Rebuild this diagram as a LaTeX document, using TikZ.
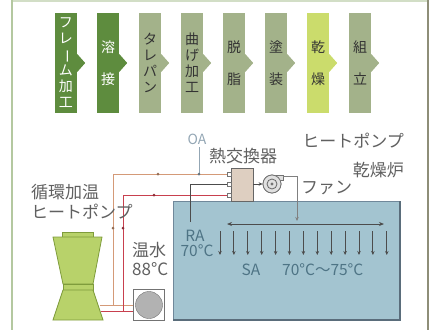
\documentclass[tikz,border=0pt]{standalone}
\usepackage{fontspec}
\newfontfamily\jp{Noto Sans CJK JP}
\usetikzlibrary{arrows.meta}
\definecolor{darkstep}{HTML}{5E8C3E}
\definecolor{sagestep}{HTML}{A3B28A}
\definecolor{limestep}{HTML}{CBDC6C}
\definecolor{framegreen}{HTML}{B4C8A0}
\definecolor{frameolive}{HTML}{8E8E78}
\definecolor{tanpipe}{HTML}{D49A78}
\definecolor{redpipe}{HTML}{C8404E}
\definecolor{tankfill}{HTML}{A3C4D0}
\definecolor{tankedge}{HTML}{70889A}
\definecolor{pumpfill}{HTML}{B8D26A}
\definecolor{pumpedge}{HTML}{7F9C3C}
\definecolor{labelgray}{HTML}{606060}
\definecolor{tanktext}{HTML}{4E7485}
\definecolor{oagray}{HTML}{93A6B4}
\begin{document}
\begin{tikzpicture}[x=1pt,y=-1pt,
  stepbox/.style={minimum width=22pt,minimum height=100pt,inner sep=0pt,
    font=\jp\fontsize{14}{16}\selectfont,align=center},
  label/.style={font=\jp\fontsize{17}{18}\selectfont,text=labelgray,inner sep=0pt},
  tanklabel/.style={font=\jp\fontsize{15.5}{16}\selectfont,text=tanktext,inner sep=0pt},
  pipe/.style={line width=1pt},
  marker/.style={circle,inner sep=0pt,minimum size=3pt},
  flow/.style={draw=black!70,line width=0.9pt,-{Stealth[length=4pt,width=3.5pt]}}
]
\useasboundingbox (0,0) rectangle (440,330);

% frame
\draw[framegreen!60,line width=2pt] (12,1) -- (428,1);
\draw[framegreen,line width=1.2pt] (12,0) -- (12,330);
\draw[frameolive,line width=1.5pt] (428,0) -- (428,330);

% process steps
\newcommand{\notch}[2]{\fill[#2] ([yshift=9pt]#1.east) -- ([xshift=8pt]#1.east) -- ([yshift=-9pt]#1.east) -- cycle;}
\node[stepbox,fill=darkstep,text=white] (s1) at (66,63)
  {フ\\レ\\\rotatebox[origin=c]{-90}{ー}\\ム\\加\\工};
\node[stepbox,fill=darkstep,text=white] (s2) at (108,63) {溶\\[16pt]接};
\node[stepbox,fill=sagestep,text=black!80] (s3) at (150,63) {タ\\レ\\パ\\ン};
\node[stepbox,fill=sagestep,text=black!80] (s4) at (192,63) {曲\\げ\\加\\工};
\node[stepbox,fill=sagestep,text=black!80] (s5) at (234,63) {脱\\[16pt]脂};
\node[stepbox,fill=sagestep,text=black!80] (s6) at (276,63) {塗\\[16pt]装};
\node[stepbox,fill=limestep,text=black!80] (s7) at (318,63) {乾\\[16pt]燥};
\node[stepbox,fill=sagestep,text=black!80] (s8) at (360,63) {組\\[16pt]立};
\notch{s1}{darkstep}\notch{s2}{darkstep}\notch{s3}{sagestep}\notch{s4}{sagestep}
\notch{s5}{sagestep}\notch{s6}{sagestep}\notch{s7}{limestep}\notch{s8}{sagestep}

% drying furnace tank
\node[draw=tankedge,fill=tankfill,line width=1pt,minimum width=226pt,minimum height=118pt,inner sep=0pt,anchor=north west] (tank) at (173,201) {};
\draw[tankedge!80!black,line width=1.5pt] (tank.north east) -- (tank.south east) -- (tank.south west);

% heat exchanger and fan
\node[draw=black!60,fill=black!25!brown!30,minimum width=22pt,minimum height=33pt,inner sep=0pt,anchor=north west] (hx) at (231,168) {};
\node[draw=black!55,fill=black!12,circle,minimum size=18pt,inner sep=0pt,line width=0.8pt] (fan) at (272,184) {};
\draw[black!55,fill=black!12,line width=0.8pt] (272,175) rectangle (283,180);
\draw[black!55,fill=black!12,line width=0.8pt] (fan) circle (9pt);
\draw[black!60,line width=0.8pt] (fan) circle (5pt);
\fill[black!55] (fan) circle (1.6pt);
\coordinate (duct) at (283,176);
\draw[flow,line width=0.7pt] (hx.east |- fan) -- (fan.west);
\draw[black!50,line width=0.8pt] (duct) -- (297,176) coordinate (ductturn);
\draw[flow,line width=0.8pt,draw=black!50] (ductturn) -- (297,221);

% supply air distribution
\draw[black!70,line width=1pt,{Stealth[length=5pt,width=4pt]}-{Stealth[length=5pt,width=4pt]}] (227,224) -- (384,224);
\foreach \k in {0,...,12}
  \draw[flow] ({220+13.9*\k},231) -- ({220+13.9*\k},255);

% circulating heat pump
\node[draw=pumpedge,fill=pumpfill,minimum width=31pt,minimum height=5pt,inner sep=0pt,anchor=south] (hpcap) at (77.5,237) {};
\filldraw[draw=pumpedge,fill=pumpfill,line width=0.8pt] (53,237) -- (102,237) -- (93,284) -- (63,284) -- cycle;
\filldraw[draw=pumpedge,fill=pumpfill,line width=0.8pt] (63,284) rectangle (93,290);
\filldraw[draw=pumpedge,fill=pumpfill,line width=0.8pt] (63,290) -- (93,290) -- (103,320) -- (53,320) -- cycle;
\coordinate (hpout1) at (100,305);
\coordinate (hpout2) at (101,311);

% hot water pump
\node[draw=black!55,fill=white,minimum size=31pt,inner sep=0pt,line width=0.8pt] (wp) at (149,305) {};
\fill[draw=black!55,fill=black!30] (wp) circle (13.5pt);

% water pipes
\draw[tanpipe,pipe] (hpout1) -- (wp.west |- hpout1);
\draw[redpipe,pipe] (hpout2) -- (wp.west |- hpout2);
\draw[tanpipe,pipe] (113,305) -- (113,174) -- (228,174);
\draw[redpipe,pipe] (123,311) -- (123,195) -- (228,195);
\node[marker,fill=tanpipe!70!black] at (158,174) {};
\node[marker,fill=redpipe!70!black] at (154,195) {};
\node[marker,fill=tanpipe!70!black] at (113,228) {};
\node[marker,fill=redpipe!70!black] at (123,228) {};

% return air
\draw[black!70,line width=0.9pt] (190,222) -- (190,184) -- (228,184);
\foreach \yy in {174,184,195}
  \draw[black!55,fill=white,line width=0.6pt] (227,\yy-1.8) rectangle (231,\yy+1.8);

% outside air
\node[font=\jp\fontsize{14}{14}\selectfont,text=oagray,inner sep=0pt] (oa) at (197,139) {OA};
\draw[oagray,line width=0.9pt] (199,147) -- (199,174);
\node[marker,fill=oagray!70!black] at (199,174) {};

% labels
\node[label,anchor=west] (hp1) at (31,192) {循環加温};
\node[label,anchor=west] (hp2) at (31,212) {ヒートポンプ};
\node[label,anchor=west] (hw1) at (132,250) {温水};
\node[label,anchor=west] (hw2) at (132,269) {88°C};
\node[label] (hxl) at (243,156) {熱交換器};
\node[label,anchor=east] (df1) at (404,141) {ヒートポンプ};
\node[label,anchor=east] (df2) at (404,170) {乾燥炉};
\node[label,anchor=west] (fanl) at (301,188) {ファン};
\node[tanklabel] (ra1) at (195,236) {RA};
\node[tanklabel] (ra2) at (197,251) {70°C};
\node[tanklabel] (sa) at (251,270) {SA};
\node[tanklabel,anchor=west] (sat) at (282,270) {70°C～75°C};
\end{tikzpicture}
\end{document}
